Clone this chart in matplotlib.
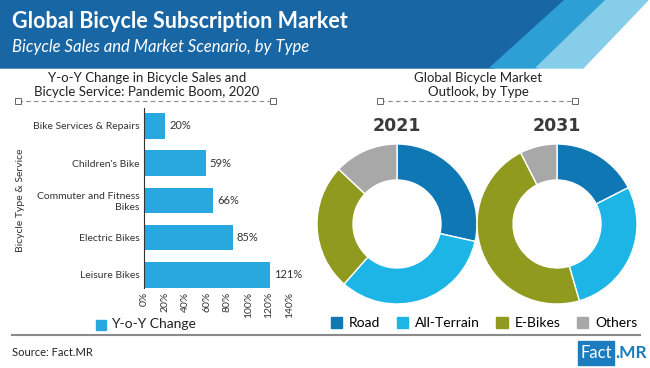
import matplotlib.pyplot as plt
from matplotlib.patches import Polygon, Rectangle
from matplotlib.lines import Line2D

plt.rcParams['font.family'] = ['Lato', 'DejaVu Sans']

# bar chart data (top to bottom)
categories = ['Bike Services & Repairs', "Children's Bike", 'Commuter and Fitness\nBikes',
              'Electric Bikes', 'Leisure Bikes']
yoy_change = [20, 59, 66, 85, 121]
x_ticks = [0, 20, 40, 60, 80, 100, 120, 140]

# donut data
segments = ['Road', 'All-Terrain', 'E-Bikes', 'Others']
share_2021 = [28.5, 33.0, 25.5, 13.0]
share_2031 = [17.5, 28.0, 47.0, 7.5]
seg_colors = ['#0f78b4', '#1cb5e6', '#8f9a1f', '#a8a8a8']
bar_color = '#29a7df'

W, H = 650, 368
fig = plt.figure(figsize=(6.5, 3.68), dpi=100)


def fx(px):
    return px / W


def fy(py):
    return 1 - py / H


# header band
dark = Polygon([(0, fy(0)), (fx(568), fy(0)), (fx(493), fy(68)), (0, fy(68))],
               closed=True, transform=fig.transFigure, color='#1966a5', zorder=0)
mid = Polygon([(fx(565), fy(0)), (fx(608), fy(0)), (fx(538), fy(68)), (fx(490), fy(68))],
              closed=True, transform=fig.transFigure, color='#2d9fd5', zorder=0)
light = Polygon([(fx(606), fy(0)), (fx(648), fy(0)), (fx(583), fy(68)), (fx(536), fy(68))],
                closed=True, transform=fig.transFigure, color='#86cde9', zorder=0)
for p in (dark, mid, light):
    fig.patches.append(p)

fig.text(fx(12), fy(22), 'Global Bicycle Subscription Market', color='white',
         fontsize=15.5, fontweight='bold', va='center', ha='left')
fig.text(fx(12), fy(47), 'Bicycle Sales and Market Scenario, by Type', color='white',
         fontsize=12, style='italic', va='center', ha='left')

# sub-chart titles
fig.text(fx(147), fy(85), 'Y-o-Y Change in Bicycle Sales and\nBicycle Service: Pandemic Boom, 2020',
         fontsize=9.5, ha='center', va='center', color='#222222', linespacing=1.25)
fig.text(fx(478), fy(85), 'Global Bicycle Market\nOutlook, by Type',
         fontsize=9.5, ha='center', va='center', color='#222222', linespacing=1.25)

for x0, x1 in [(18, 273), (380, 575)]:
    fig.lines.append(Line2D([fx(x0), fx(x1)], [fy(101), fy(101)], transform=fig.transFigure,
                            color='#888888', lw=0.8, ls=(0, (4, 3)), marker='s', markersize=4,
                            markerfacecolor='white', markeredgecolor='#666666',
                            markeredgewidth=0.7))

# bar chart
ax = fig.add_axes([fx(144), fy(288), fx(290) - fx(144), (288 - 108) / H])
ypos = list(range(len(categories)))
ax.barh(ypos, yoy_change, height=0.68, color=bar_color)
for y, v in zip(ypos, yoy_change):
    ax.text(v + 4, y, f'{v}%', va='center', ha='left', fontsize=8, color='#333333')
ax.set_xlim(0, 140)
ax.set_ylim(4.35, -0.48)
ax.set_yticks(ypos)
ax.set_yticklabels(categories, fontsize=7.5, color='#333333')
ax.set_xticks(x_ticks)
ax.set_xticklabels([f'{t}%' for t in x_ticks], rotation=90, fontsize=7.5, color='#333333')
ax.tick_params(length=0, pad=3)
for s in ('top', 'right', 'bottom'):
    ax.spines[s].set_visible(False)
ax.spines['left'].set_color('#333333')
ax.spines['left'].set_linewidth(0.8)
fig.text(fx(21), fy(200), 'Bicycle Type & Service', rotation=90, fontsize=7.5,
         ha='center', va='center', color='#333333')

fig.patches.append(Rectangle((fx(96), fy(330)), fx(10), 10 / H, transform=fig.transFigure,
                             color=bar_color))
fig.text(fx(111), fy(324), 'Y-o-Y Change', fontsize=10, va='center', ha='left', color='#222222')

# donuts
for cx, year, vals in [(397, '2021', share_2021), (557, '2031', share_2031)]:
    r = 80
    dax = fig.add_axes([fx(cx - r), fy(224 + r), 2 * r / W, 2 * r / H])
    dax.pie(vals, colors=seg_colors, startangle=90, counterclock=False, radius=1,
            wedgeprops=dict(width=0.45, edgecolor='white', linewidth=1))
    dax.set_xlim(-1, 1)
    dax.set_ylim(-1, 1)
    fig.text(fx(cx), fy(126), year, fontsize=12.5, fontweight='bold', color='#3a3a3a',
             ha='center', va='center', family='DejaVu Sans')

handles = [Rectangle((0, 0), 1, 1, color=c) for c in seg_colors]
fig.legend(handles, segments, loc='center', bbox_to_anchor=(fx(484), fy(323)), ncol=4,
           frameon=False, fontsize=10, handlelength=0.8, handleheight=0.8,
           handletextpad=0.5, columnspacing=1.2)

# footer
fig.lines.append(Line2D([fx(12), fx(640)], [fy(335), fy(335)], transform=fig.transFigure,
                        color='#8a8a8a', lw=1.5))
fig.text(fx(12), fy(352), 'Source: Fact.MR', fontsize=8, va='center', ha='left', color='#222222')
fig.patches.append(Rectangle((fx(578), fy(365)), fx(36), 24 / H, transform=fig.transFigure,
                             color='#1b7cbf'))
fig.text(fx(596), fy(353), 'Fact', fontsize=12, color='white', ha='center', va='center')
fig.text(fx(615), fy(353), '.MR', fontsize=12.5, color='#1b7cbf', fontweight='bold',
         ha='left', va='center')

fig.savefig('out.png', dpi=100)
